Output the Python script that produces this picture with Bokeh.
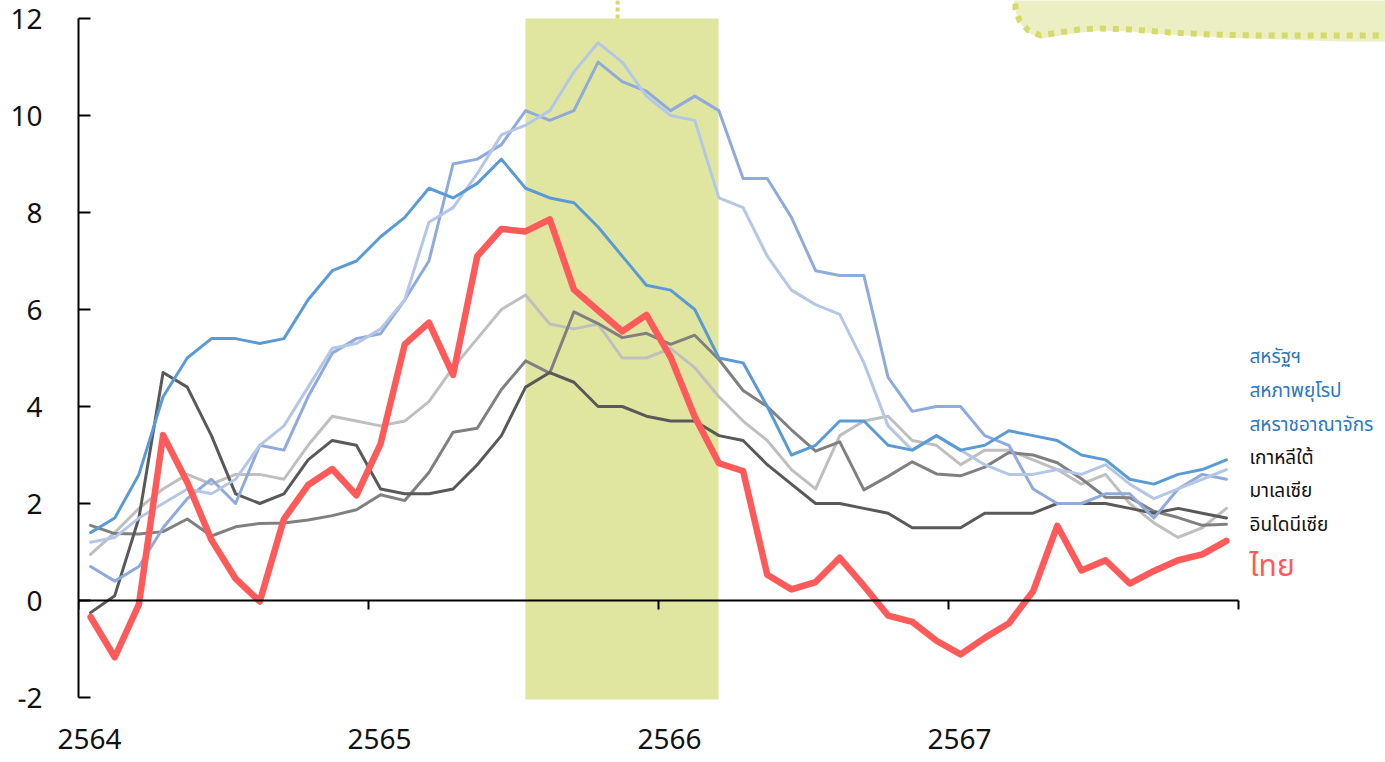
from bokeh.plotting import figure
from bokeh.models import LinearAxis, FixedTicker, Range1d, BoxAnnotation, ColumnDataSource
from bokeh.core.properties import value
from bokeh.embed import file_html
from bokeh.resources import INLINE

# ---- data (monthly, Jan 2564 .. Dec 2567) ----
months = [2564 + (i + 0.5) / 12 for i in range(48)]

us = [1.4, 1.7, 2.6, 4.2, 5.0, 5.4, 5.4, 5.3, 5.4, 6.2, 6.8, 7.0,
      7.5, 7.9, 8.5, 8.3, 8.6, 9.1, 8.5, 8.3, 8.2, 7.7, 7.1, 6.5,
      6.4, 6.0, 5.0, 4.9, 4.0, 3.0, 3.2, 3.7, 3.7, 3.2, 3.1, 3.4,
      3.1, 3.2, 3.5, 3.4, 3.3, 3.0, 2.9, 2.5, 2.4, 2.6, 2.7, 2.9]
eu = [1.2, 1.3, 1.7, 2.0, 2.3, 2.2, 2.5, 3.2, 3.6, 4.4, 5.2, 5.3,
      5.6, 6.2, 7.8, 8.1, 8.8, 9.6, 9.8, 10.1, 10.9, 11.5, 11.1, 10.4,
      10.0, 9.9, 8.3, 8.1, 7.1, 6.4, 6.1, 5.9, 4.9, 3.6, 3.1, 3.4,
      3.1, 2.8, 2.6, 2.6, 2.7, 2.6, 2.8, 2.4, 2.1, 2.3, 2.5, 2.7]
uk = [0.7, 0.4, 0.7, 1.5, 2.1, 2.5, 2.0, 3.2, 3.1, 4.2, 5.1, 5.4,
      5.5, 6.2, 7.0, 9.0, 9.1, 9.4, 10.1, 9.9, 10.1, 11.1, 10.7, 10.5,
      10.1, 10.4, 10.1, 8.7, 8.7, 7.9, 6.8, 6.7, 6.7, 4.6, 3.9, 4.0,
      4.0, 3.4, 3.2, 2.3, 2.0, 2.0, 2.2, 2.2, 1.7, 2.3, 2.6, 2.5]
korea = [0.95, 1.4, 1.9, 2.3, 2.6, 2.4, 2.6, 2.6, 2.5, 3.2, 3.8, 3.7,
         3.6, 3.7, 4.1, 4.8, 5.4, 6.0, 6.3, 5.7, 5.6, 5.7, 5.0, 5.0,
         5.2, 4.8, 4.2, 3.7, 3.3, 2.7, 2.3, 3.4, 3.7, 3.8, 3.3, 3.2,
         2.8, 3.1, 3.1, 2.9, 2.7, 2.4, 2.6, 2.0, 1.6, 1.3, 1.5, 1.9]
malaysia = [-0.25, 0.1, 1.7, 4.7, 4.4, 3.4, 2.2, 2.0, 2.2, 2.9, 3.3, 3.2,
            2.3, 2.2, 2.2, 2.3, 2.8, 3.4, 4.4, 4.7, 4.5, 4.0, 4.0, 3.8,
            3.7, 3.7, 3.4, 3.3, 2.8, 2.4, 2.0, 2.0, 1.9, 1.8, 1.5, 1.5,
            1.5, 1.8, 1.8, 1.8, 2.0, 2.0, 2.0, 1.9, 1.8, 1.9, 1.8, 1.7]
indonesia = [1.55, 1.38, 1.37, 1.42, 1.68, 1.33, 1.52, 1.59, 1.60, 1.66, 1.75, 1.87,
             2.18, 2.06, 2.64, 3.47, 3.55, 4.35, 4.94, 4.69, 5.95, 5.71, 5.42, 5.51,
             5.28, 5.47, 4.97, 4.33, 4.00, 3.52, 3.08, 3.27, 2.28, 2.56, 2.86, 2.61,
             2.57, 2.75, 3.05, 3.00, 2.84, 2.51, 2.13, 2.12, 1.84, 1.71, 1.55, 1.57]
thailand = [-0.34, -1.17, -0.08, 3.41, 2.44, 1.25, 0.45, -0.02, 1.68, 2.38, 2.71, 2.17,
            3.23, 5.28, 5.73, 4.65, 7.10, 7.66, 7.61, 7.86, 6.41, 5.98, 5.55, 5.89,
            5.02, 3.79, 2.83, 2.67, 0.53, 0.23, 0.38, 0.88, 0.30, -0.31, -0.44, -0.83,
            -1.11, -0.77, -0.47, 0.19, 1.54, 0.62, 0.83, 0.35, 0.61, 0.83, 0.95, 1.23]

labels = ["สหรัฐฯ", "สหภาพยุโรป", "สหราชอาณาจักร", "เกาหลีใต้", "มาเลเซีย", "อินโดนีเซีย", "ไทย"]
year_ticks = [2564, 2565, 2566, 2567]
y_ticks = [-2, 0, 2, 4, 6, 8, 10, 12]
band_start, band_end = 2565.541, 2566.207
marker_x = 2565.859

# ---- layout helpers (pixel geometry of the frame) ----
PX_PER_YEAR = 290.0
PX_PER_UNIT = 48.5
W, H = 1385, 762
LEFT, BOTTOM = 78, 63
FRAME_W, FRAME_H = W - LEFT, H - BOTTOM
X0 = 2564.0
Y_TOP = 12 + 18 / PX_PER_UNIT
Y_BOT = Y_TOP - FRAME_H / PX_PER_UNIT
X_END = X0 + FRAME_W / PX_PER_YEAR

def px_to_x(px):
    return X0 + (px - LEFT) / PX_PER_YEAR

def py_to_y(py):
    return (600 - py) / PX_PER_UNIT

FONT = "'Noto Sans Thai', 'Noto Sans', sans-serif"

p = figure(width=W, height=H, output_backend="svg", toolbar_location=None,
           x_range=Range1d(X0, X_END), y_range=Range1d(Y_BOT, Y_TOP),
           x_axis_location=None, y_axis_location=None,
           min_border_left=LEFT, min_border_right=0, min_border_top=0, min_border_bottom=BOTTOM)
p.outline_line_color = None
p.xgrid.grid_line_color = None
p.ygrid.grid_line_color = None
p.background_fill_color = "white"

# shaded band
p.add_layout(BoxAnnotation(left=band_start, right=band_end, bottom=-2.05, top=12,
                           fill_color="#e0e6a0", fill_alpha=1.0, line_color=None, level="underlay"))

# decorative dotted marker line above band
p.line([marker_x, marker_x], [12, Y_TOP + 1], line_color="#d5db6a", line_width=4, line_dash="4 3")

# decorative blob at top right
blob_px = [(1013, -10), (1014, 8), (1019, 22), (1029, 33), (1042, 38), (1060, 35), (1080, 32),
           (1100, 30), (1130, 31), (1170, 34), (1220, 37), (1280, 39), (1340, 41), (1400, 41), (1400, -10)]
p.patch([px_to_x(a) for a, b in blob_px], [py_to_y(b) for a, b in blob_px],
        fill_color="#ebefc3", line_color=None)
edge_px = [(1015, -10), (1015, 8), (1019, 20), (1028, 30), (1040, 35), (1058, 32), (1078, 29),
           (1100, 28), (1130, 29), (1170, 32), (1210, 34), (1260, 35), (1320, 35), (1400, 35)]
p.line([px_to_x(a) for a, b in edge_px], [py_to_y(b) for a, b in edge_px],
       line_color="#d5db6a", line_width=6, line_dash="6 7")

# series
series = [
    (korea, "#bfbfbf", 3),
    (indonesia, "#808080", 3),
    (malaysia, "#595959", 3),
    (uk, "#8faadc", 3),
    (eu, "#b4c7e7", 3),
    (us, "#5b9bd5", 3),
    (thailand, "#ff5a5a", 6.5),
]
for vals, col, w in series:
    p.line(months, vals, line_color=col, line_width=w, line_join="round", line_cap="round")

# y axis
yax = LinearAxis(ticker=FixedTicker(ticks=y_ticks), bounds=(-2, 12))
yax.axis_line_width = 2
yax.axis_line_color = "black"
yax.major_tick_line_width = 2
yax.major_tick_in = 12
yax.major_tick_out = 0
yax.minor_tick_line_color = None
yax.major_label_standoff = 36
yax.major_label_text_font_size = "28px"
yax.major_label_text_font = FONT
yax.major_label_text_color = "#111111"
p.add_layout(yax, "left")

# x axis line at y = 0 with downward ticks
xax0 = LinearAxis(fixed_location=0, ticker=FixedTicker(ticks=year_ticks + [2568]), bounds=(2564, 2568))
xax0.axis_line_width = 2
xax0.axis_line_color = "black"
xax0.major_tick_line_width = 2
xax0.major_tick_in = 0
xax0.major_tick_out = 9
xax0.minor_tick_line_color = None
xax0.major_label_text_font_size = "0px"
xax0.major_label_text_alpha = 0
p.add_layout(xax0, "below")

# year labels at bottom (labels sit slightly right of their ticks, as in the original)
p.extra_x_ranges = {"lab": Range1d(X0 - 11 / PX_PER_YEAR, X_END - 11 / PX_PER_YEAR)}
xlab = LinearAxis(x_range_name="lab", ticker=FixedTicker(ticks=year_ticks))
xlab.axis_line_color = None
xlab.major_tick_line_color = None
xlab.major_tick_in = 0
xlab.major_tick_out = 0
xlab.minor_tick_line_color = None
xlab.major_label_standoff = 29
xlab.major_label_text_font_size = "28px"
xlab.major_label_text_font = FONT
xlab.major_label_text_color = "#111111"
p.add_layout(xlab, "below")

# right-side labels
lab_y = [py_to_y(v) for v in (357, 391, 425, 458, 491, 525, 566)]
lab_colors = ["#2a78c2", "#2a78c2", "#2a78c2", "#111111", "#111111", "#111111", "#ff5a5a"]
lab_sizes = ["19px"] * 6 + ["30px"]
src = ColumnDataSource(dict(x=[px_to_x(1249)] * 7, y=lab_y, text=labels, color=lab_colors, size=lab_sizes))
p.text(x="x", y="y", text="text", source=src, text_color="color", text_font_size="size",
       text_font=value(FONT), text_baseline="middle", text_align="left")

open("out.html", "w").write(file_html(p, INLINE))
